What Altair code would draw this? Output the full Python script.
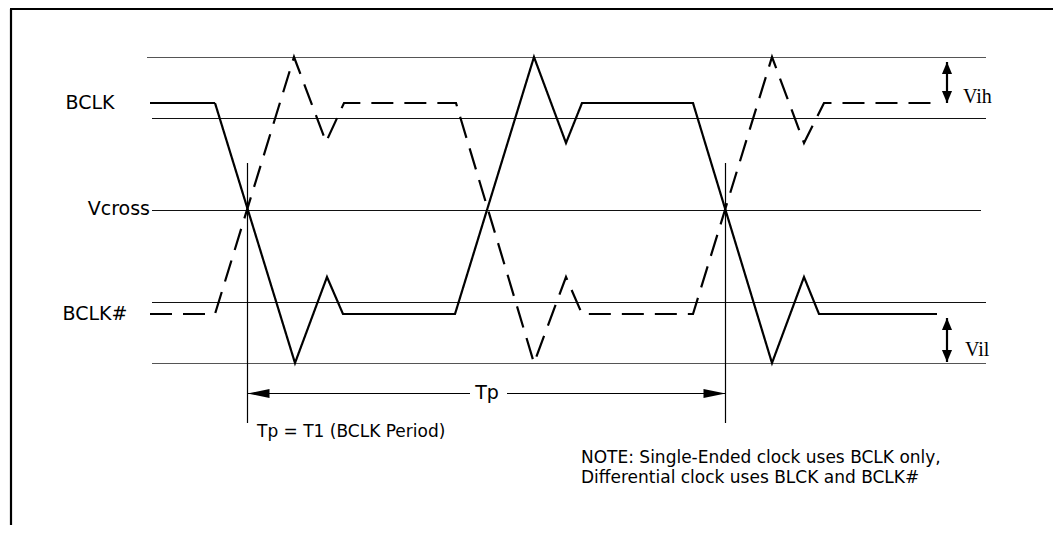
import altair as alt
import pandas as pd

# Horizontal axis: time relative to the first BCLK / BCLK# crossing (Tp = 478 units)
# Vertical axis: voltage relative to Vcross (arbitrary units, positive is up)

W, H = 1045, 517
X_DOMAIN = [-239, 806]
Y_DOMAIN = [210 - (8 + H), 202]

# threshold / limit lines
LEVEL_NAMES = ["overshoot max", "Vih", "Vcross", "Vil", "undershoot min"]
LEVEL_V = [152.5, 91.5, -0.5, -92.5, -153.5]
LEVEL_T1 = [-100, -95, -95, -95, -95]
LEVEL_T2 = [739, 739, 734, 739, 739]
LEVEL_COLOR = ["#555555", "#111111", "#111111", "#111111", "#555555"]

# waveforms
BCLK_T = [-97, -32, 48, 80, 96, 208, 287, 319, 335, 446, 525, 557, 572, 690]
BCLK_V = [107, 107, -153, -67, -104, -104, 153, 67, 107, 107, -153, -67, -104, -104]
BCLKN_T = [-97, -32, 47, 79, 97, 209, 287, 319, 335, 446, 525, 557, 577, 690]
BCLKN_V = [-104, -104, 153, 68, 107, 107, -153, -67, -104, -104, 153, 67, 107, 107]

# period markers
MARK_T = [0.5, 478.5]
MARK_V_TOP = [47, 47]
MARK_V_BOT = [-213, -213]

# Tp dimension arrow
TP_V = -183.5
TP_SEG_T1 = [0.5, 260]
TP_SEG_T2 = [223, 478.5]

# Vih / Vil double arrows
VARROW_NAMES = ["Vih", "Vil"]
VARROW_T = [700, 700]
VARROW_TOP = [148, -108]
VARROW_BOT = [107, -152]

# frame
FRAME_T1 = [-236, -237]
FRAME_T2 = [-236, 806]
FRAME_V1 = [201, 201]
FRAME_V2 = [Y_DOMAIN[0], 201]

# texts
SIG_LABELS = ["BCLK", "BCLK#", "Tp"]
SIG_LABEL_T = [-157, -152, 240]
SIG_LABEL_V = [107, -104, -183]
VCROSS_LABEL = ["Vcross"]
VCROSS_T = [-97]
VCROSS_V = [1]
SERIF_LABELS = ["Vih", "Vil"]
SERIF_T = [716, 718]
SERIF_V = [113, -140]
NOTE_LABELS = ["Tp = T1 (BCLK Period)",
               "NOTE: Single-Ended clock uses BCLK only,",
               "Differential clock uses BLCK and BCLK#"]
NOTE_T = [10, 334, 334]
NOTE_V = [-222, -248, -268]

SANS = "DejaVu Sans"
SERIF = "Liberation Serif"

xs = alt.Scale(domain=X_DOMAIN, nice=False, zero=False)
ys = alt.Scale(domain=Y_DOMAIN, nice=False, zero=False)


def X(f):
    return alt.X(f + ":Q", scale=xs, axis=None)


def Y(f):
    return alt.Y(f + ":Q", scale=ys, axis=None)


levels = pd.DataFrame({"name": LEVEL_NAMES, "v": LEVEL_V, "t1": LEVEL_T1,
                       "t2": LEVEL_T2, "col": LEVEL_COLOR})
wave_rows = []
for i, (t, v) in enumerate(zip(BCLK_T, BCLK_V)):
    wave_rows.append({"signal": "BCLK", "i": i, "t": t, "v": v})
for i, (t, v) in enumerate(zip(BCLKN_T, BCLKN_V)):
    wave_rows.append({"signal": "BCLK#", "i": i, "t": t, "v": v})
waves = pd.DataFrame(wave_rows)
marks = pd.DataFrame({"t": MARK_T, "v1": MARK_V_TOP, "v2": MARK_V_BOT})
tpseg = pd.DataFrame({"t1": TP_SEG_T1, "t2": TP_SEG_T2, "v": [TP_V, TP_V]})
tp_left = pd.DataFrame({"t": [MARK_T[0]], "v": [TP_V]})
tp_right = pd.DataFrame({"t": [MARK_T[1]], "v": [TP_V]})
varrow = pd.DataFrame({"name": VARROW_NAMES, "t": VARROW_T,
                       "top": VARROW_TOP, "bot": VARROW_BOT})
frame = pd.DataFrame({"t1": FRAME_T1, "t2": FRAME_T2, "v1": FRAME_V1, "v2": FRAME_V2})

frame_l = alt.Chart(frame).mark_rule(color="black", strokeWidth=2.2).encode(
    x=X("t1"), x2=alt.X2("t2"), y=Y("v1"), y2=alt.Y2("v2"))

level_l = alt.Chart(levels).mark_rule(strokeWidth=1).encode(
    x=X("t1"), x2=alt.X2("t2"), y=Y("v"),
    color=alt.Color("col:N", scale=None))

wave_l = alt.Chart(waves).mark_line(strokeWidth=2.2, color="black").encode(
    x=X("t"), y=Y("v"), order=alt.Order("i:Q"),
    strokeDash=alt.StrokeDash("signal:N",
                              scale=alt.Scale(domain=["BCLK", "BCLK#"],
                                              range=[[1, 0], [22, 11]]),
                              legend=None))

mark_l = alt.Chart(marks).mark_rule(color="black", strokeWidth=1.2).encode(
    x=X("t"), y=Y("v1"), y2=alt.Y2("v2"))

tpseg_l = alt.Chart(tpseg).mark_rule(color="black", strokeWidth=1.2).encode(
    x=X("t1"), x2=alt.X2("t2"), y=Y("v"))

ARROW_LEFT = "M 0 0 L 2 -0.4 L 2 0.4 Z"
ARROW_RIGHT = "M 0 0 L -2 -0.4 L -2 0.4 Z"
ARROW_UP = "M 0 0 L 0.42 1 L -0.42 1 Z"
ARROW_DOWN = "M 0 0 L 0.42 -1 L -0.42 -1 Z"

tpl_l = alt.Chart(tp_left).mark_point(shape=ARROW_LEFT, size=484, filled=True,
                                      color="black", opacity=1, strokeWidth=0).encode(
    x=X("t"), y=Y("v"))
tpr_l = alt.Chart(tp_right).mark_point(shape=ARROW_RIGHT, size=484, filled=True,
                                       color="black", opacity=1, strokeWidth=0).encode(
    x=X("t"), y=Y("v"))

vshaft_l = alt.Chart(varrow).mark_rule(color="black", strokeWidth=2.2).encode(
    x=X("t"), y=Y("top"), y2=alt.Y2("bot"))
vup_l = alt.Chart(varrow).mark_point(shape=ARROW_UP, size=576, filled=True,
                                     color="black", opacity=1, strokeWidth=0).encode(
    x=X("t"), y=Y("top"))
vdown_l = alt.Chart(varrow).mark_point(shape=ARROW_DOWN, size=576, filled=True,
                                       color="black", opacity=1, strokeWidth=0).encode(
    x=X("t"), y=Y("bot"))

sig_txt = alt.Chart(pd.DataFrame({"label": SIG_LABELS, "t": SIG_LABEL_T, "v": SIG_LABEL_V})).mark_text(
    font=SANS, fontSize=19, align="center", baseline="middle", color="black").encode(
    x=X("t"), y=Y("v"), text="label:N")
vc_txt = alt.Chart(pd.DataFrame({"label": VCROSS_LABEL, "t": VCROSS_T, "v": VCROSS_V})).mark_text(
    font=SANS, fontSize=19, align="right", baseline="middle", color="black").encode(
    x=X("t"), y=Y("v"), text="label:N")
serif_txt = alt.Chart(pd.DataFrame({"label": SERIF_LABELS, "t": SERIF_T, "v": SERIF_V})).mark_text(
    font=SERIF, fontSize=20, align="left", baseline="middle", color="black").encode(
    x=X("t"), y=Y("v"), text="label:N")
note_txt = alt.Chart(pd.DataFrame({"label": NOTE_LABELS, "t": NOTE_T, "v": NOTE_V})).mark_text(
    font=SANS, fontSize=17, align="left", baseline="middle", color="black").encode(
    x=X("t"), y=Y("v"), text="label:N")

chart = alt.layer(
    frame_l, level_l, wave_l, mark_l, tpseg_l, tpl_l, tpr_l,
    vshaft_l, vup_l, vdown_l, sig_txt, vc_txt, serif_txt, note_txt
).properties(
    width=W, height=H, padding=0,
    autosize=alt.AutoSizeParams(type="none"),
    background="white"
).configure_view(stroke=None)

chart.save("out.html", embed_options={"renderer": "svg", "actions": False})
